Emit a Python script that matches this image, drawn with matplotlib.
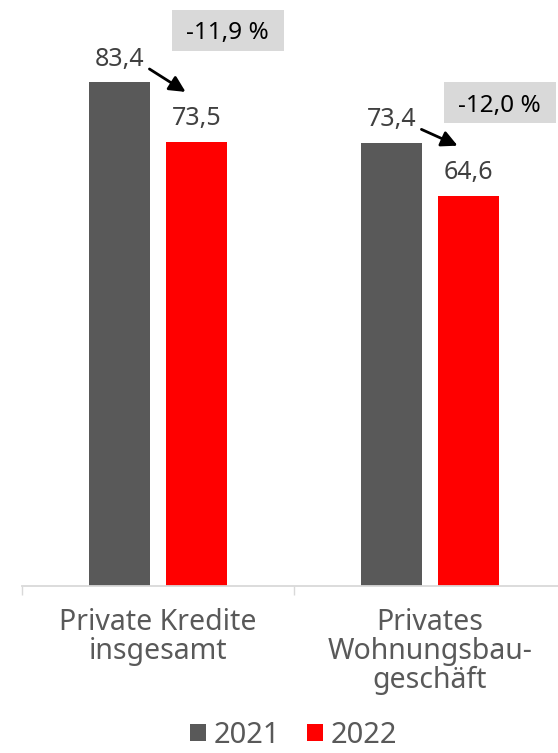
import matplotlib
matplotlib.use("Agg")
import matplotlib.pyplot as plt
from matplotlib.patches import Rectangle, Patch

plt.rcParams['font.family'] = ['Noto Sans', 'DejaVu Sans']

categories = ["Private Kredite\ninsgesamt", "Privates\nWohnungsbau-\ngeschäft"]
series_names = ["2021", "2022"]
values_2021 = [83.4, 73.4]
values_2022 = [73.5, 64.6]
change_labels = ["-11,9 %", "-12,0 %"]

colors = ["#595959", "#FF0000"]
bar_w = 0.224
offset = 0.1415

fig = plt.figure(figsize=(5.58, 7.53), dpi=100)
ax = fig.add_axes([22 / 558, 167 / 753, 544 / 558, 586 / 753])
ax.set_xlim(-0.5, 1.5)
ax.set_ylim(0, 586 / 6.04)

x = list(range(len(categories)))
x1 = [i - offset for i in x]
x2 = [i + offset for i in x]
b1 = ax.bar(x1, values_2021, width=bar_w, color=colors[0], label=series_names[0])
b2 = ax.bar(x2, values_2022, width=bar_w, color=colors[1], label=series_names[1])

def fmt(v):
    return f"{v:.1f}".replace(".", ",")

for xs, vals in ((x1, values_2021), (x2, values_2022)):
    for xi, v in zip(xs, vals):
        ax.annotate(fmt(v), (xi, v), xytext=(0, 12), textcoords="offset points",
                    ha="center", va="baseline", fontsize=18, color="#404040")

# change arrows and boxes
box_dy = [8.6, 6.6]
for i in range(len(categories)):
    start = (x1[i] + 0.11, values_2021[i] + 2.2)
    end = (x2[i] - 0.04, values_2022[i] + 8.3)
    ax.annotate("", xy=end, xytext=start,
                arrowprops=dict(arrowstyle="-|>", color="black", lw=2.0,
                                mutation_scale=24, shrinkA=0, shrinkB=0))
    bx = x2[i] + 0.115
    by = values_2021[i] + box_dy[i]
    bw, bh = 0.41, 6.8
    ax.add_patch(Rectangle((bx - bw / 2, by - bh / 2), bw, bh, facecolor="#D9D9D9",
                           edgecolor="none", zorder=1))
    ax.text(bx, by, change_labels[i], ha="center", va="center_baseline",
            fontsize=17.5, color="black", zorder=2)

for s in ["top", "left", "right"]:
    ax.spines[s].set_visible(False)
ax.spines["bottom"].set_color("#D9D9D9")
ax.spines["bottom"].set_linewidth(1.3)
ax.set_yticks([])
ax.set_xticks(x)
ax.set_xticklabels(categories, fontsize=20.5, color="#595959", linespacing=1.0)
ax.tick_params(axis="x", which="major", length=0, pad=16)
ax.set_xticks([-0.5, 0.5, 1.5], minor=True)
ax.tick_params(axis="x", which="minor", length=6.5, width=1, color="#D9D9D9")

handles = [Patch(facecolor=c, edgecolor="none") for c in colors]
fig.legend(handles, series_names, loc="center", bbox_to_anchor=(0.526, 0.0235),
           ncol=2, frameon=False, fontsize=21, labelcolor="#595959",
           handlelength=0.55, handleheight=0.55, handletextpad=0.27,
           columnspacing=0.9, borderpad=0, borderaxespad=0)

fig.savefig("out.png", dpi=100)
